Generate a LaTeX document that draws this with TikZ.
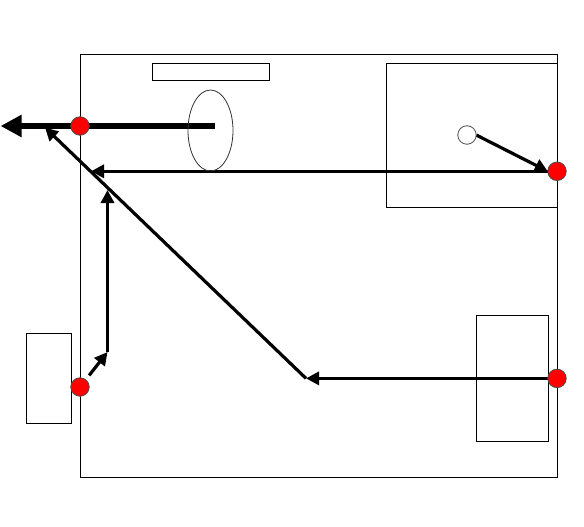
\documentclass[tikz,border=0pt]{standalone}
\usetikzlibrary{arrows.meta,shapes.geometric,backgrounds}
\pgfdeclarelayer{top}
\pgfsetlayers{background,main,top}
\tikzset{
  boxnode/.style={draw=black,line width=1pt,inner sep=0pt,outer sep=0pt,minimum width=#1},
  port/.style={circle,draw=black!70,line width=0.8pt,fill=red,inner sep=0pt,outer sep=0pt,minimum size=18.5pt},
  hollow/.style={circle,draw=black!70,line width=0.8pt,fill=white,inner sep=0pt,outer sep=0pt,minimum size=18.5pt},
  lens/.style={ellipse,draw=black!80,line width=0.8pt,inner sep=0pt,outer sep=0pt,minimum width=45pt,minimum height=81pt},
  flow/.style={line width=3.2pt,-{Triangle[length=13pt,width=13pt]}},
  mainflow/.style={line width=6.5pt,-{Triangle[length=21pt,width=21pt]}},
}
\begin{document}
\begin{tikzpicture}[x=1pt,y=-1pt]
\useasboundingbox (0,0) rectangle (584,527);
\begin{pgfonlayer}{background}
  \fill[white] (0,0) rectangle (584,527);
  \node[boxnode=477pt,minimum height=422.5pt] (frame) at (319,265.75) {};
  \node[boxnode=117pt,minimum height=17.5pt] (label) at (211,72.25) {};
  \node[boxnode=171pt,minimum height=144pt] (upper) at (472,135.5) {};
  \node[boxnode=45pt,minimum height=90pt] (left) at (49,378.5) {};
  \node[boxnode=72pt,minimum height=125.5pt] (lower) at (512.5,378.25) {};
\end{pgfonlayer}
\begin{pgfonlayer}{top}
  \node[lens] (lensnode) at (210.5,130.5) {};
  \node[hollow] (src) at (467,135) {};
  \node[port] (p1) at (80,126) {};
  \node[port] (p2) at (557,171.3) {};
  \node[port] (p3) at (80,387) {};
  \node[port] (p4) at (557,378.4) {};
\end{pgfonlayer}
\coordinate (mainstart) at (215,126);
\coordinate (mainend) at (0.5,126);
\coordinate (upperend) at (91,171.3);
\coordinate (bend) at (107.5,352);
\coordinate (riseend) at (107.5,190);
\coordinate (merge) at (306,378.4);
\coordinate (diagend) at (45,127.5);
\draw[mainflow] (mainstart) -- (mainend);
\draw[flow] (p2.west) -- (upperend);
\draw[flow] (src.east) -- (p2.west);
\draw[flow,shorten <=5.5pt] (p3) -- (bend);
\draw[flow] (bend) -- (riseend);
\draw[flow] (p4.west) -- (merge);
\draw[flow] (merge) -- (diagend);
\end{tikzpicture}
\end{document}
